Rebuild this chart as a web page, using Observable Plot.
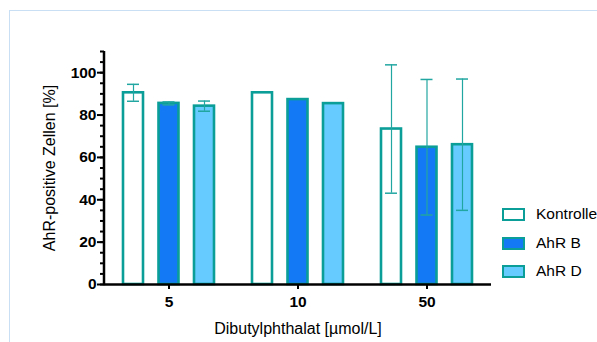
<!DOCTYPE html>
<html><head><meta charset="utf-8">
<script src="https://cdn.jsdelivr.net/npm/d3@7"></script>
<script src="https://cdn.jsdelivr.net/npm/@observablehq/plot@0.6"></script>
<style>
body{margin:0;background:#fff;}
#wrap{position:relative;width:597px;height:342px;overflow:hidden;font-family:"Liberation Sans",Arial,Helvetica,sans-serif;}
#frame{position:absolute;left:9px;top:10px;width:700px;height:400px;border-top:1.5px solid #c9e0f4;border-left:1.5px solid #c9e0f4;}
#chart{position:absolute;left:0;top:0;}
.lg{position:absolute;left:502px;height:16px;display:flex;align-items:center;font-size:15.5px;white-space:nowrap;color:#000;}
.lg .box{width:23px;height:13px;box-sizing:border-box;border:2.5px solid #0b9e98;margin-right:11px;flex:none;}
</style></head>
<body>
<div id="wrap"><div id="frame"></div><div id="chart"></div><div id="legend"></div></div>
<script>
const doses = ["5", "10", "50"];
const seriesNames = ["Kontrolle", "AhR B", "AhR D"];
const kontrolleMean = [90.5, 90.5, 73.4];
const kontrolleErr = [4.0, 0, 30.3];
const ahrBMean = [85.5, 87.3, 64.8];
const ahrBErr = [0.7, 0, 32.0];
const ahrDMean = [84.2, 85.4, 66.0];
const ahrDErr = [2.4, 0, 31.0];
const yTicks = [0, 20, 40, 60, 80, 100];

const fills = ["#ffffff", "#1479f5", "#66ccff"];
const strokeColor = "#0b9e98";
const errColor = "#22a6a1";
const offsets = [-35.5, 0, 35.5];
const means = [kontrolleMean, ahrBMean, ahrDMean];
const errs = [kontrolleErr, ahrBErr, ahrDErr];

const marks = [];
seriesNames.forEach((s, i) => {
  const data = doses.map((d, j) => ({dose: d, v: means[i][j], e: errs[i][j]}));
  marks.push(Plot.barY(data, {x: "dose", y: "v", dx: offsets[i], insetLeft: 54.5, insetRight: 54.5,
    fill: fills[i], stroke: strokeColor, strokeWidth: 2.6}));
});
seriesNames.forEach((s, i) => {
  const data = doses.map((d, j) => ({dose: d, v: means[i][j], e: errs[i][j]})).filter(d => d.e > 0);
  marks.push(Plot.ruleX(data, {x: "dose", y1: d => d.v - d.e, y2: d => d.v + d.e, dx: offsets[i], stroke: errColor, strokeWidth: 1.2}));
  marks.push(Plot.tickY(data, {x: "dose", y: d => d.v + d.e, dx: offsets[i], insetLeft: 58.5, insetRight: 58.5, stroke: errColor, strokeWidth: 1.5}));
  marks.push(Plot.tickY(data, {x: "dose", y: d => d.v - d.e, dx: offsets[i], insetLeft: 58.5, insetRight: 58.5, stroke: errColor, strokeWidth: 1.5}));
});

marks.push(Plot.axisY(d3.range(0, 111, 5), {tickSize: 4, tickFormat: () => "", label: null, strokeWidth: 2}));
marks.push(Plot.axisY(yTicks, {tickSize: 7, tickPadding: 1, fontSize: 15.5, fontWeight: "bold", label: null, strokeWidth: 2}));
marks.push(Plot.axisX({tickSize: 5, tickPadding: 6, fontSize: 15.5, fontWeight: "bold", label: null, strokeWidth: 2}));
marks.push(Plot.ruleY([0], {strokeWidth: 2.5}));
marks.push((index, scales, values, dims) => {
  const l = document.createElementNS("http://www.w3.org/2000/svg", "line");
  l.setAttribute("x1", dims.marginLeft); l.setAttribute("x2", dims.marginLeft);
  l.setAttribute("y1", dims.height - dims.marginBottom + 1.2); l.setAttribute("y2", dims.marginTop);
  l.setAttribute("stroke", "black"); l.setAttribute("stroke-width", 2.5);
  return l;
});
marks.push(Plot.text(["AhR-positive Zellen [%]"], {frameAnchor: "left", textAnchor: "middle", lineAnchor: "middle", dx: -55, rotate: -90, fontSize: 16}));
marks.push(Plot.text(["Dibutylphthalat [µmol/L]"], {frameAnchor: "bottom", textAnchor: "middle", lineAnchor: "middle", dy: 44, fontSize: 16}));

const chart = Plot.plot({
  width: 597, height: 342,
  marginLeft: 104, marginRight: 106, marginTop: 51, marginBottom: 58,
  style: {background: "transparent", color: "black", fontFamily: "'Liberation Sans', Arial, sans-serif"},
  x: {type: "band", domain: doses, padding: 0},
  y: {domain: [0, 110]},
  marks
});
document.getElementById("chart").appendChild(chart);

const legend = document.getElementById("legend");
const legendTops = [206, 235, 263];
seriesNames.forEach((s, i) => {
  const row = document.createElement("div");
  row.className = "lg";
  row.style.top = legendTops[i] + "px";
  const box = document.createElement("span");
  box.className = "box";
  box.style.background = fills[i];
  const t = document.createElement("span");
  t.textContent = s;
  row.appendChild(box); row.appendChild(t);
  legend.appendChild(row);
});
</script>
</body></html>
